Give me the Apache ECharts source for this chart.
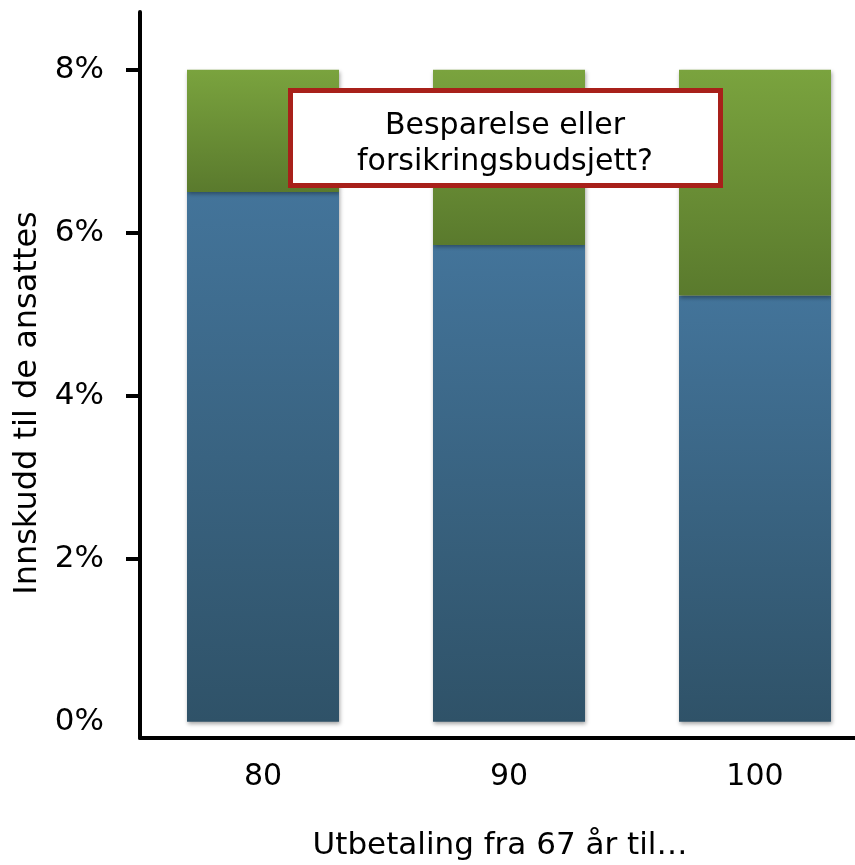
<!DOCTYPE html>
<html>
<head>
<meta charset="utf-8">
<script src="https://cdn.jsdelivr.net/npm/echarts@6/dist/echarts.min.js"></script>
<style>html,body{margin:0;padding:0;background:#fff}#c{width:855px;height:865px}</style>
</head>
<body>
<div id="c"></div>
<script>
var categories = ['80', '90', '100'];
var savings = [6.5, 5.85, 5.23];      // blue (Innskudd)
var insurance = [1.5, 2.15, 2.77];    // green (Forsikringsbudsjett)
var yTicks = [0, 2, 4, 6, 8];
var xTitle = 'Utbetaling fra 67 år til…';
var yTitle = 'Innskudd til de ansattes';
var noteText = 'Besparelse eller\nforsikringsbudsjett?';

var FONT = 'DejaVu Sans';
var chart = echarts.init(document.getElementById('c'));
var blueGrad = new echarts.graphic.LinearGradient(0, 0, 0, 1, [
  {offset: 0, color: '#43749a'}, {offset: 1, color: '#2f5268'}]);
var greenGrad = new echarts.graphic.LinearGradient(0, 0, 0, 1, [
  {offset: 0, color: '#7aa33e'}, {offset: 1, color: '#5a7a2d'}]);
var shadow = {shadowBlur: 4, shadowColor: 'rgba(0,0,0,0.35)', shadowOffsetX: 1, shadowOffsetY: 2};

chart.setOption({
  animation: false,
  grid: {left: 140, width: 738, top: 12, bottom: 127, containLabel: false, outerBoundsMode: 'none'},
  xAxis: {
    type: 'category', data: categories,
    axisLine: {onZero: false, lineStyle: {color: '#000', width: 4}},
    axisTick: {show: false},
    axisLabel: {color: '#000', fontFamily: FONT, fontSize: 30, margin: 24}
  },
  yAxis: {
    type: 'value', min: -0.2, max: 8.71,
    splitLine: {show: false},
    axisLine: {show: true, lineStyle: {color: '#000', width: 4}},
    axisTick: {show: true, length: 14, lineStyle: {color: '#000', width: 4}, customValues: [2, 4, 6, 8]},
    axisLabel: {color: '#000', fontFamily: FONT, fontSize: 31, margin: 36,
      customValues: yTicks, formatter: function (v) { return v + '%'; }}
  },
  series: [
    {type: 'bar', stack: 'a', data: savings, barWidth: 152,
      itemStyle: Object.assign({color: blueGrad}, shadow)},
    {type: 'bar', stack: 'a', data: insurance, barWidth: 152,
      itemStyle: Object.assign({color: greenGrad}, shadow)}
  ],
  graphic: [
    {type: 'rect', shape: {x: 290.5, y: 90.5, width: 430, height: 95},
      style: {fill: '#fff', stroke: '#a8201a', lineWidth: 5}, z: 100},
    {type: 'text', x: 505, y: 144, z: 101,
      style: {text: noteText, fill: '#000', font: '30px "DejaVu Sans"', align: 'center', verticalAlign: 'middle', lineHeight: 36}},
    {type: 'text', x: 500, y: 846, z: 101,
      style: {text: xTitle, fill: '#000', font: '31px "DejaVu Sans"', align: 'center', verticalAlign: 'middle'}},
    {type: 'text', x: 28, y: 403, rotation: Math.PI / 2, z: 101,
      style: {text: yTitle, fill: '#000', font: '32px "DejaVu Sans"', align: 'center', verticalAlign: 'middle'}}
  ]
});
</script>
</body>
</html>
